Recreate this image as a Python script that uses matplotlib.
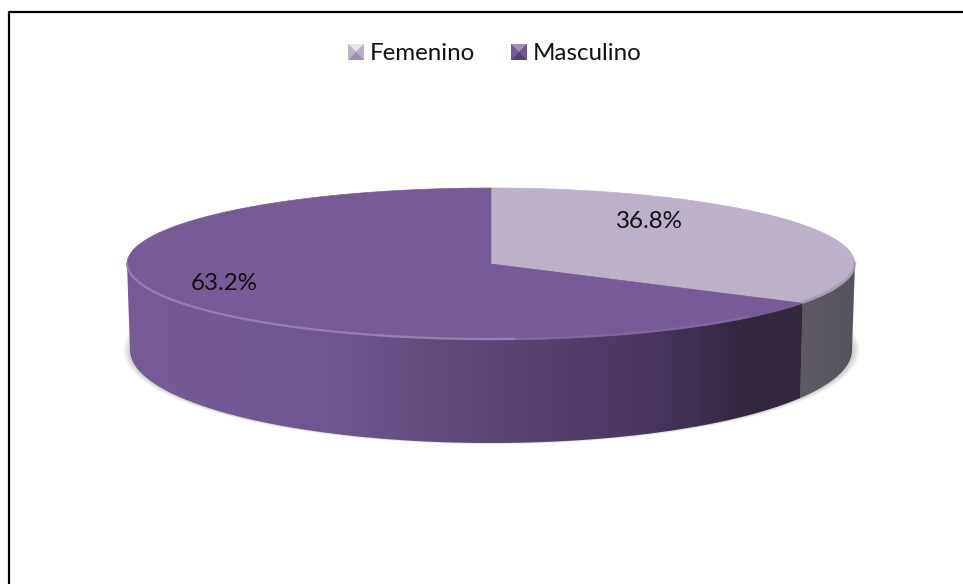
import numpy as np
import matplotlib
matplotlib.use("Agg")
import matplotlib.pyplot as plt
from matplotlib.patches import Polygon, Rectangle
from matplotlib.colors import LinearSegmentedColormap

labels = ["Femenino", "Masculino"]
values = [36.8, 63.2]
top_colors = ["#bcb1c9", "#775b96"]
side_femenino = ["#5f5b66", "#57535c"]
side_masculino = [(0, "#775b96"), (0.3, "#6f5690"), (0.55, "#5a4672"), (0.77, "#4a3760"),
                  (0.92, "#33263f"), (1, "#33263f")]

cx, cy = 491, 264
rx, ry = 364, 76
# bottom disc is a bit smaller and rounder, perspective
low_cy, low_rx, low_ry = 350, 361, 93
persp = 0.78

plt.rcParams['font.family'] = ['Lato', 'DejaVu Sans']

fig = plt.figure(figsize=(9.63, 5.84), dpi=100)
ax = fig.add_axes([0, 0, 1, 1])
ax.set_xlim(0, 963)
ax.set_ylim(584, 0)
ax.axis("off")


def warp(theta):
    # pie angle (clockwise from top) -> ellipse parameter, fakes the 3d perspective
    return 2 * np.arctan2(persp * np.sin(theta / 2), np.cos(theta / 2))


def rim(t, dy=0):
    return np.column_stack([cx + rx * np.sin(t), cy - ry * np.cos(t) + dy])


def low_rim(t):
    return np.column_stack([cx + low_rx * np.sin(t), low_cy - low_ry * np.cos(t)])


def x_gradient(stops, poly, z):
    cmap = LinearSegmentedColormap.from_list("g", stops)
    xs = poly[:, 0]
    im = ax.imshow(np.linspace(0, 1, 256)[None, :], cmap=cmap, aspect="auto", zorder=z,
                   extent=[xs.min(), xs.max(), poly[:, 1].max(), poly[:, 1].min()])
    clip = Polygon(poly, closed=True, transform=ax.transData, fc="none", ec="none")
    ax.add_patch(clip)
    im.set_clip_path(clip)
    ax.set_xlim(0, 963)
    ax.set_ylim(584, 0)


# soft shadow under the disc
yy, xx = np.mgrid[0:584, 0:963]
d = np.sqrt(((xx - cx) / 369.0) ** 2 + ((yy - 350) / 94.0) ** 2)
alpha = np.clip((1.0 - d) / 0.05, 0, 1) * 0.7
shadow = np.zeros((584, 963, 4))
shadow[..., :3] = 0.35
shadow[..., 3] = alpha
ax.imshow(shadow, extent=[0, 963, 584, 0], aspect="auto", zorder=1, interpolation="bilinear")

cuts = np.cumsum([0] + values) / sum(values) * 2 * np.pi
t0 = warp(cuts[1])

# sides, only the part of the wall facing the viewer is visible
arc_f = np.linspace(np.pi / 2, t0, 120)
wall_f = np.vstack([rim(arc_f), low_rim(arc_f[::-1])])
x_gradient(side_femenino, wall_f, 2)

arc_m = np.linspace(t0, 3 * np.pi / 2, 300)
wall_m = np.vstack([rim(arc_m), low_rim(arc_m[::-1])])
x_gradient(side_masculino, wall_m, 2)

# top faces
t_f = np.linspace(0, t0, 300)
t_m = np.linspace(t0, 2 * np.pi, 500)
ax.add_patch(Polygon(np.vstack([[cx, cy], rim(t_f)]), closed=True, fc=top_colors[0],
                     ec=top_colors[0], lw=0.5, zorder=3))
ax.add_patch(Polygon(np.vstack([[cx, cy], rim(t_m)]), closed=True, fc=top_colors[1],
                     ec=top_colors[1], lw=0.5, zorder=3))

# light rim along the front edge of the purple slice, fades to the right
t = np.linspace(np.pi * 0.98, 3 * np.pi / 2, 200)
ax.plot(*rim(t, -1).T, color="#9a84b8", lw=1.6, alpha=0.9, zorder=4, solid_capstyle="round")
t = np.linspace(np.pi * 0.75, np.pi * 0.98, 100)
ax.plot(*rim(t, -1).T, color="#9a84b8", lw=1.2, alpha=0.35, zorder=4)

t = np.linspace(np.pi / 2, t0, 60)
ax.plot(*rim(t, -1).T, color="#8f8a99", lw=2, alpha=0.5, zorder=4)

ax.text(649, 221, "36.8%", fontsize=17.4, ha="center", va="center", color="#111111", zorder=6)
ax.text(224, 284, "63.2%", fontsize=17.4, ha="center", va="center", color="#111111", zorder=6)

# legend, little bevelled squares like the office style
legend_x = [348, 511]
text_x = [370, 533]
bevel = [("#e6e1eb", "#b8aec6", "#9c91ab", "#bdb3ca"), ("#a48dc0", "#73588f", "#56407a", "#775b96")]
for i, name in enumerate(labels):
    x, y, s = legend_x[i], 44, 16
    mid = (x + s / 2, y + s / 2)
    corners = [(x, y), (x + s, y), (x + s, y + s), (x, y + s)]
    ax.add_patch(Rectangle((x, y), s, s, fc=top_colors[i], ec="none", zorder=5))
    for k in range(4):
        inner = [corners[k], corners[(k + 1) % 4], mid]
        ax.add_patch(Polygon(inner, closed=True, fc=bevel[i][k], ec="none", zorder=5))
    ax.text(text_x[i], 53, name, fontsize=17.4, ha="left", va="center", color="#111111", zorder=6)

# chart frame, only top and left are inside the crop
ax.plot([9, 9, 963], [584, 11.5, 11.5], color="black", lw=1.6, zorder=7, clip_on=False)

fig.savefig("out.png", dpi=100, facecolor="white")
